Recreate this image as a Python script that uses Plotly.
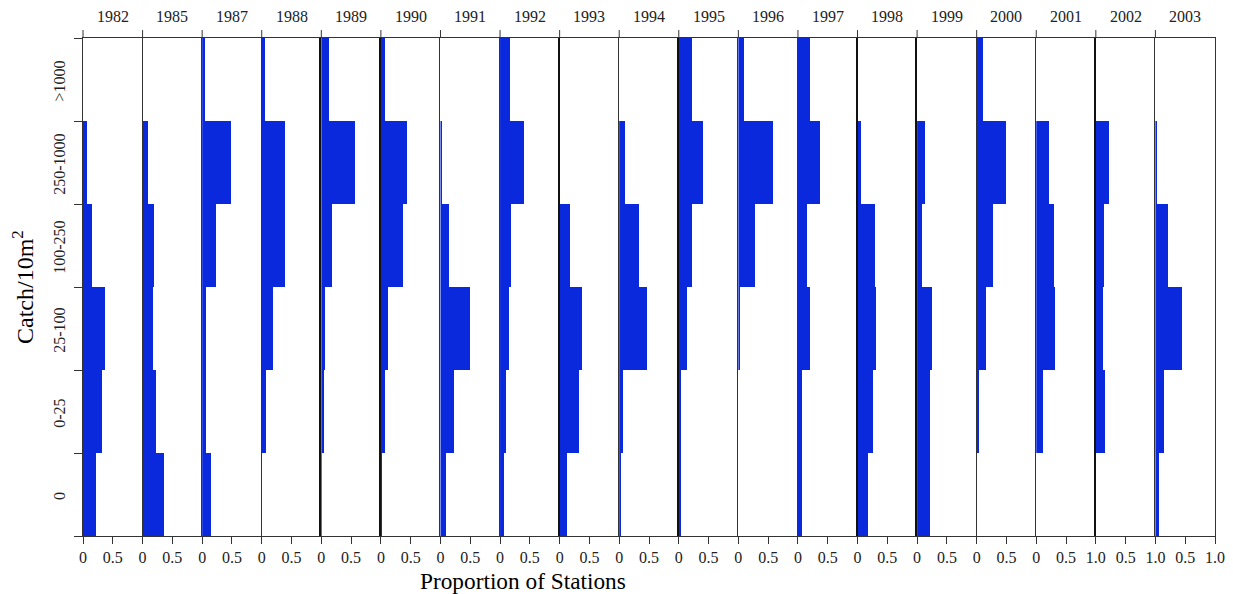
import plotly.graph_objects as go
from plotly.subplots import make_subplots

years = ["1982","1985","1987","1988","1989","1990","1991","1992","1993","1994",
         "1995","1996","1997","1998","1999","2000","2001","2002","2003"]
categories = ["0", "0-25", "25-100", "100-250", "250-1000", ">1000"]

catch_zero    = [.22,.35,.15,0,.01,.01,.105,.065,.125,.04,.04,0,.06,.17,.225,0,0,0,.06]
catch_0_25    = [.32,.21,.07,.07,.05,.065,.24,.105,.325,.06,.04,0,.06,.25,.21,.03,.125,.145,.145]
catch_25_100  = [.37,.17,.07,.19,.07,.125,.505,.145,.365,.465,.14,.02,.20,.31,.245,.145,.325,.11,.46]
catch_100_250 = [.155,.19,.23,.39,.19,.37,.145,.185,.16,.34,.22,.285,.15,.29,.085,.265,.305,.13,.225]
catch_250_1000= [.075,.09,.48,.39,.57,.44,.035,.40,0,.105,.40,.58,.365,.05,.13,.485,.225,.21,.04]
catch_gt1000  = [0,0,.045,.05,.13,.065,0,.17,0,0,.22,.105,.20,0,0,.105,0,0,0]

first_tick_labels = ["0"] * 17 + ["1.0", "1.0"]
series = [catch_zero, catch_0_25, catch_25_100, catch_100_250, catch_250_1000, catch_gt1000]

BLUE = "#0A28DC"
LINE = "#333333"
SERIF = "Liberation Serif"
HEAVY_YEARS = {"1989", "1990", "1993", "1995", "1998", "1999", "2002"}
n = len(years)

fig = make_subplots(rows=1, cols=n, shared_yaxes=True, horizontal_spacing=0)

for i, year in enumerate(years):
    suffix = str(i + 1) if i else ""
    vals = [s[i] for s in series]
    fig.add_trace(go.Bar(x=vals, y=categories, orientation="h",
                         marker=dict(color=BLUE, line=dict(width=0)),
                         showlegend=False), row=1, col=i + 1)
    tickvals = [0, 0.5]
    ticktext = [first_tick_labels[i], "0.5"]
    if i == n - 1:
        tickvals.append(1)
        ticktext.append("1.0")
    fig.update_xaxes(range=[0, 1], tickmode="array", tickvals=tickvals, ticktext=ticktext,
                     ticks="outside", ticklen=7, tickwidth=1, tickcolor=LINE,
                     showline=True, linecolor=LINE, linewidth=1, mirror=True,
                     showgrid=False, zeroline=False, automargin=False,
                     tickfont=dict(family=SERIF, size=16, color="#222222"),
                     row=1, col=i + 1)
    fig.add_annotation(text=year, xref=f"x{suffix} domain", yref="y domain",
                       x=0.5, y=1, yshift=21.5, showarrow=False, yanchor="middle",
                       xanchor="center",
                       font=dict(family=SERIF, size=16, color="#222222"))
    fig.add_shape(type="line", xref=f"x{suffix} domain", yref="y domain",
                  x0=0, x1=0, y0=1, y1=1.016, line=dict(color=LINE, width=1))
    fig.update_yaxes(type="category", categoryorder="array", categoryarray=categories,
                     range=[-0.5, 5.5], tickson="boundaries",
                     ticks="outside" if i == 0 else "", ticklen=8,
                     tickwidth=1, tickcolor=LINE, tickangle=-90,
                     ticklabelstandoff=11, ticklabelshift=4, automargin=False,
                     showline=True, linecolor="#111111" if year in HEAVY_YEARS else LINE,
                     linewidth=2 if year in HEAVY_YEARS else 1,
                     showgrid=False, zeroline=False,
                     tickfont=dict(family=SERIF, size=16, color="#222222"),
                     row=1, col=i + 1)
fig.update_yaxes(mirror=True, row=1, col=n)

fig.add_annotation(text="Proportion of Stations", xref="paper", yref="paper", x=0.389, y=0,
                   yshift=-45, showarrow=False, yanchor="middle", xanchor="center",
                   font=dict(family=SERIF, size=23.3, color="black"))
fig.add_annotation(text="Catch/10m<sup>2</sup>", xref="paper", yref="paper", x=0, y=0.5,
                   xshift=-60, yshift=0, textangle=-90, showarrow=False,
                   xanchor="center", yanchor="middle",
                   font=dict(family=SERIF, size=24, color="black"))

fig.update_layout(width=1233, height=594, barmode="overlay", bargap=0,
                  margin=dict(l=83, r=18, t=38, b=58),
                  plot_bgcolor="white", paper_bgcolor="white")

fig.write_html("out.html", post_script="document.body.style.margin='0';",
               config={"displayModeBar": False})
